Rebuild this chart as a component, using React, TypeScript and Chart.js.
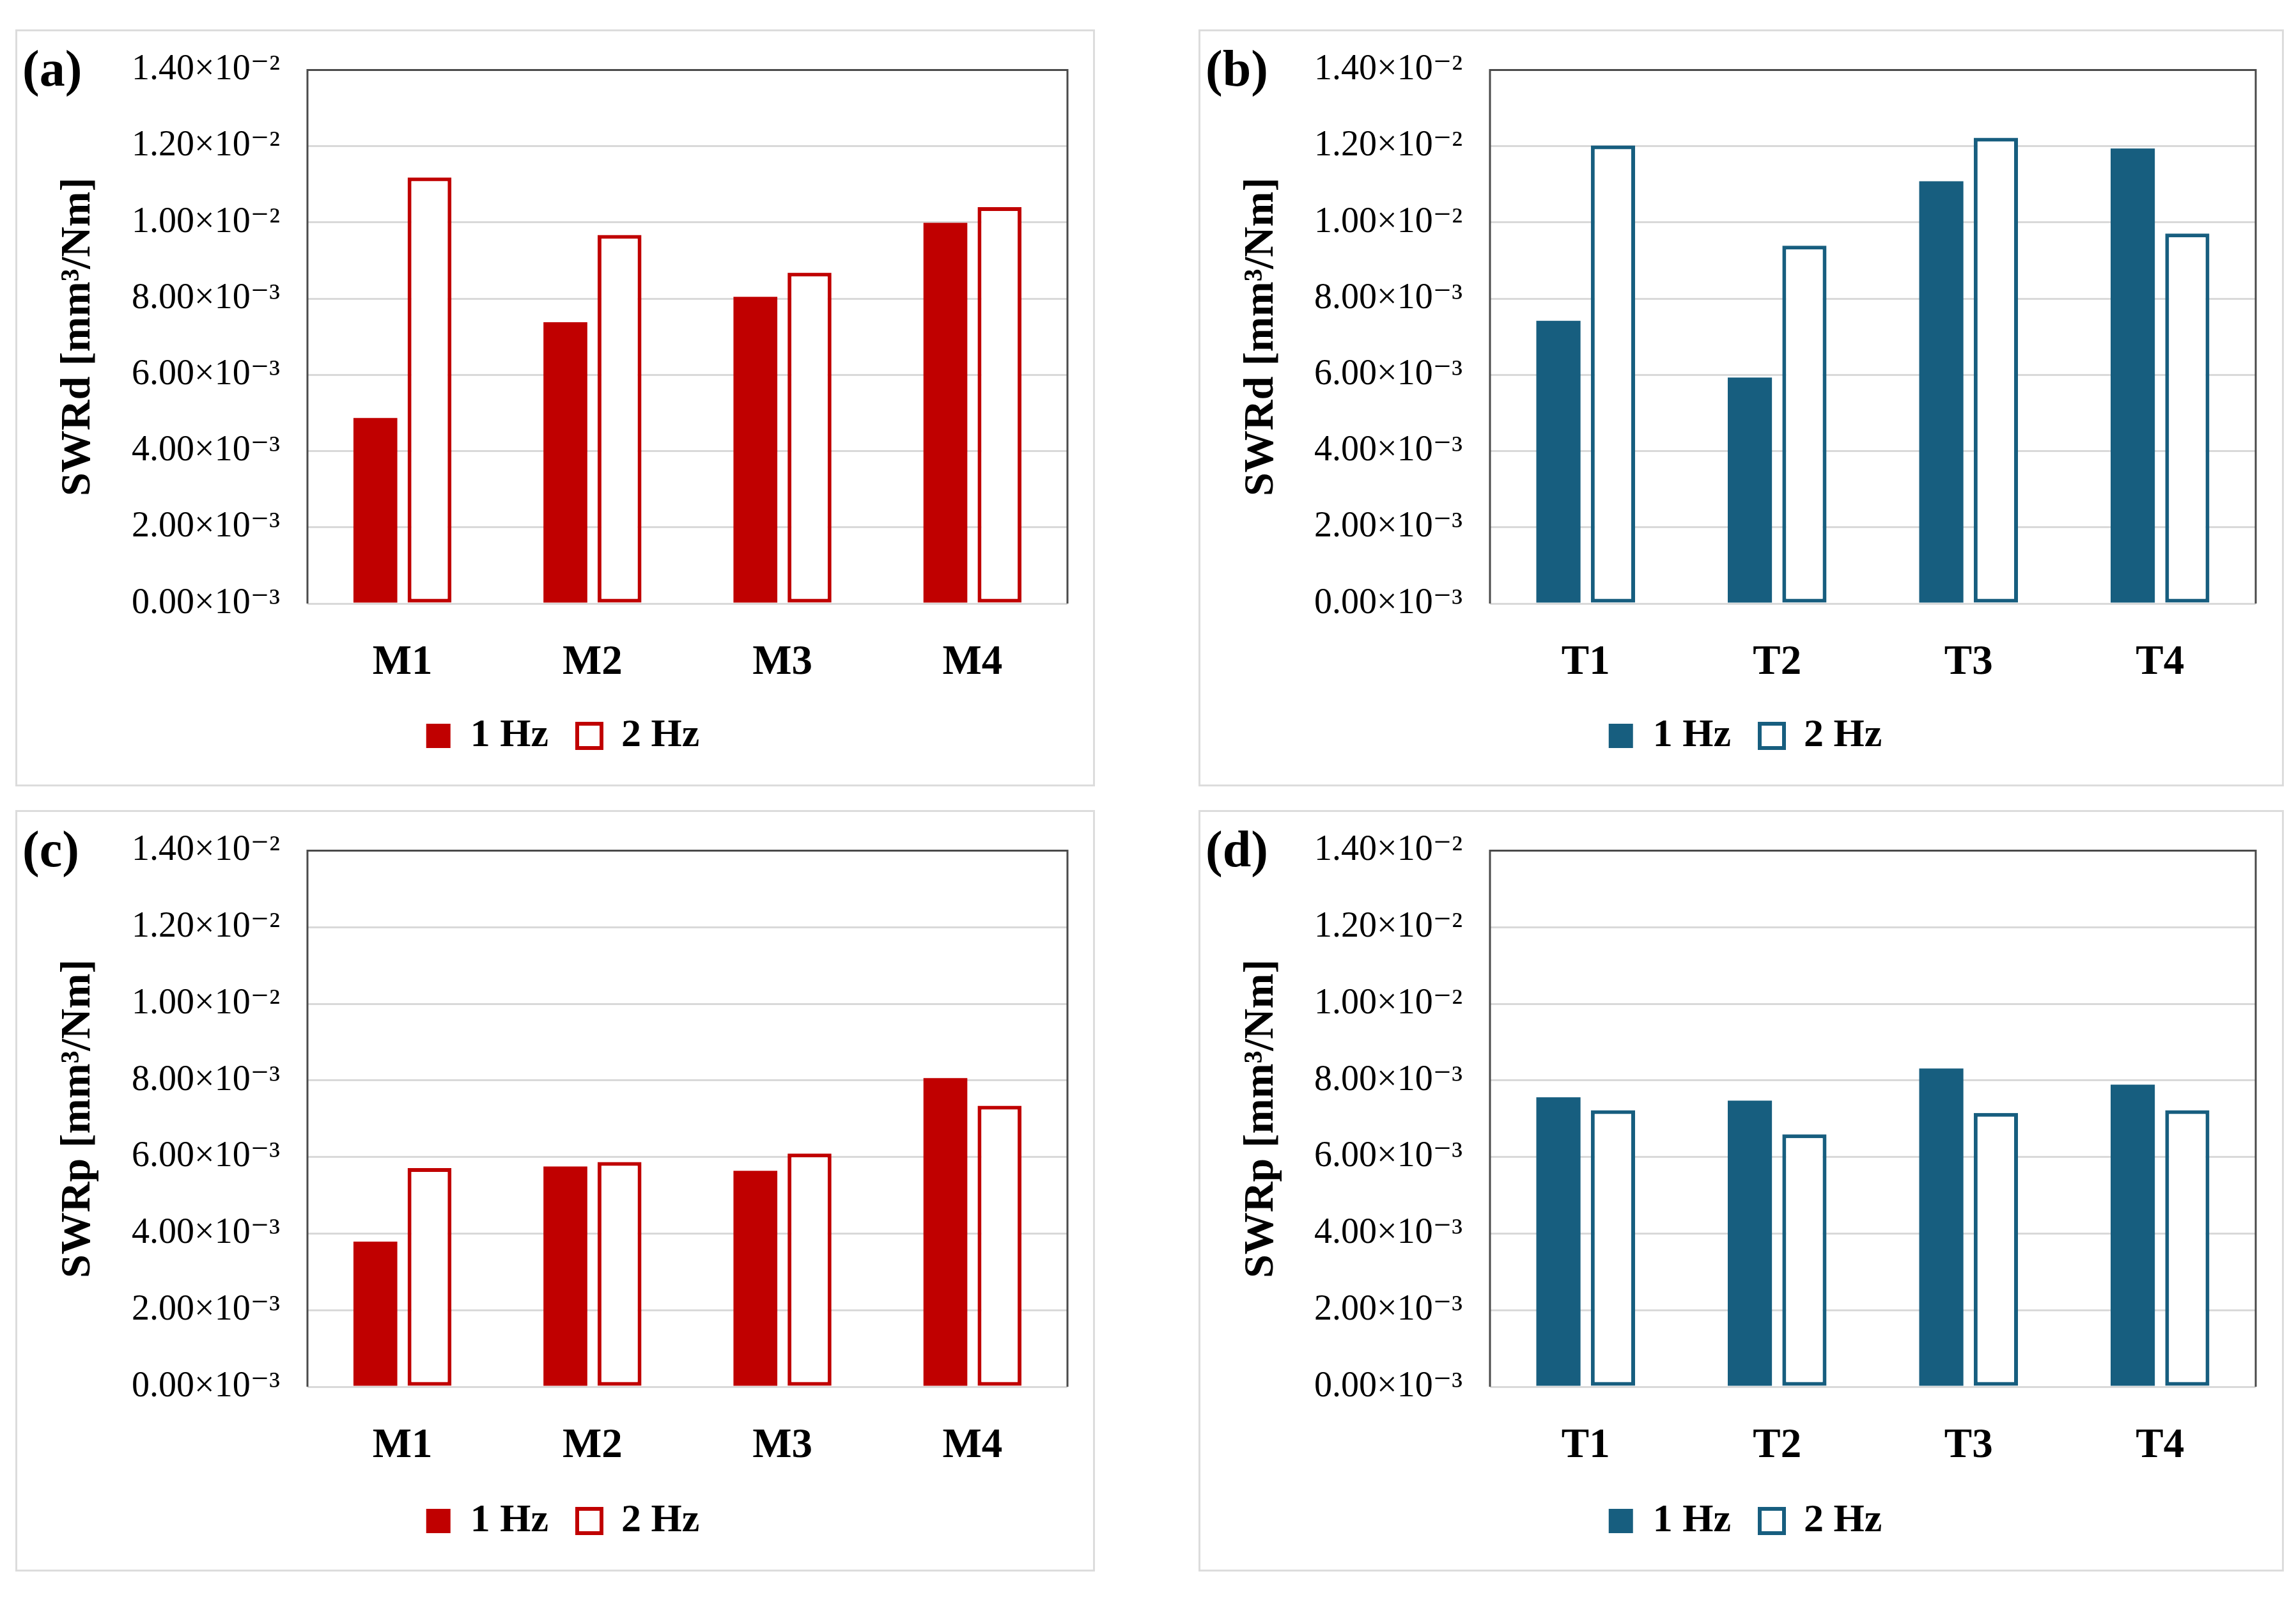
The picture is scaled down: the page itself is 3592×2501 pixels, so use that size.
import React, { useEffect, useRef } from 'react';
import { Chart, registerables } from 'chart.js';

Chart.register(...registerables);

const FONT = "'Liberation Serif', 'DejaVu Serif', serif";

// ---- data ----
const categoriesM = ['M1', 'M2', 'M3', 'M4'];
const categoriesT = ['T1', 'T2', 'T3', 'T4'];
const seriesLabels = ['1 Hz', '2 Hz'];
const panelLabels = ['(a)', '(b)', '(c)', '(d)'];
const yTitles = ['SWRd [mm³/Nm]', 'SWRp [mm³/Nm]'];
const yTickValues = [0, 0.002, 0.004, 0.006, 0.008, 0.01, 0.012, 0.014];

const swrdM1Hz = [0.00487, 0.00738, 0.00805, 0.00999];
const swrdM2Hz = [0.01118, 0.00967, 0.00868, 0.0104];
const swrdT1Hz = [0.00742, 0.00593, 0.01108, 0.01194];
const swrdT2Hz = [0.01202, 0.00939, 0.01222, 0.00971];
const swrpM1Hz = [0.00379, 0.00575, 0.00564, 0.00806];
const swrpM2Hz = [0.00571, 0.00587, 0.00609, 0.00734];
const swrpT1Hz = [0.00756, 0.00747, 0.00831, 0.00789];
const swrpT2Hz = [0.00722, 0.00659, 0.00715, 0.00722];

const RED = '#C00000';
const BLUE = '#175E7F';

function fmtTick(v: number): string {
  if (v >= 0.00999) return (v * 100).toFixed(2) + '×10⁻²';
  return (v * 1000).toFixed(2) + '×10⁻³';
}

type PanelProps = {
  left: number;
  top: number;
  width: number;
  height: number;
  label: string;
  categories: string[];
  d1: number[];
  d2: number[];
  color: string;
  yTitle: string;
  yWidth: number;
  rightPad: number;
  xHeight: number;
  legendShift: number;
};

function Panel(p: PanelProps) {
  const ref = useRef<HTMLCanvasElement | null>(null);
  const cw = p.width - 6;
  const ch = p.height - 6;

  useEffect(() => {
    if (!ref.current) return;
    const framePlugin = {
      id: 'frame',
      afterLayout(chart: any) {
        const lg = chart.legend;
        if (lg) {
          lg.left += p.legendShift;
          lg.right += p.legendShift;
        }
      },
      afterDraw(chart: any) {
        const { ctx, chartArea } = chart;
        ctx.save();
        ctx.strokeStyle = '#4a4a4a';
        ctx.lineWidth = 3;
        ctx.beginPath();
        ctx.moveTo(chartArea.left, chartArea.bottom);
        ctx.lineTo(chartArea.left, chartArea.top);
        ctx.lineTo(chartArea.right, chartArea.top);
        ctx.lineTo(chartArea.right, chartArea.bottom);
        ctx.stroke();
        ctx.fillStyle = '#000';
        ctx.font = `bold 80px ${FONT}`;
        ctx.textAlign = 'left';
        ctx.textBaseline = 'middle';
        ctx.fillText(p.label, 8, 64);
        ctx.restore();
      },
    };
    const chart = new Chart(ref.current, {
      type: 'bar',
      data: {
        labels: p.categories,
        datasets: [
          {
            label: seriesLabels[0],
            data: p.d1,
            backgroundColor: p.color,
            borderColor: p.color,
            borderWidth: 0,
            categoryPercentage: 0.57,
            barPercentage: 0.81,
          },
          {
            label: seriesLabels[1],
            data: p.d2,
            backgroundColor: '#FFFFFF',
            borderColor: p.color,
            borderWidth: 6,
            borderSkipped: false,
            categoryPercentage: 0.57,
            barPercentage: 0.81,
          },
        ],
      },
      options: {
        responsive: false,
        animation: false,
        layout: { padding: { top: 60.5, right: p.rightPad, bottom: 35, left: 0 } },
        plugins: {
          legend: {
            position: 'bottom',
            labels: {
              font: { family: FONT, size: 62, weight: 'bold' },
              color: '#000',
              boxWidth: 38,
              boxHeight: 38,
              padding: 45,
            },
          },
          tooltip: { enabled: false },
        },
        scales: {
          x: {
            grid: { display: false, drawTicks: false },
            border: { display: false },
            ticks: {
              font: { family: FONT, size: 65, weight: 'bold' },
              color: '#000',
              padding: 54,
              maxRotation: 0,
              autoSkip: false,
            },
            afterFit: (s: any) => {
              s.height = p.xHeight;
            },
          },
          y: {
            min: 0,
            max: 0.014,
            afterBuildTicks: (s: any) => {
              s.ticks = yTickValues.map((v) => ({ value: v }));
            },
            grid: { color: '#D9D9D9', lineWidth: 3, drawTicks: false },
            border: { display: false },
            ticks: {
              font: { family: FONT, size: 56 },
              color: '#000',
              padding: 43,
              callback: (v: any) => fmtTick(Number(v)),
            },
            title: {
              display: true,
              text: p.yTitle,
              font: { family: FONT, size: 66, weight: 'bold' },
              color: '#000',
              padding: { top: 56, bottom: 0 },
            },
            afterFit: (s: any) => {
              s.width = p.yWidth;
              s.paddingTop = 0;
              s.paddingBottom = 0;
            },
          },
        },
      } as any,
      plugins: [framePlugin],
    });
    return () => chart.destroy();
  }, []);

  return (
    <div
      style={{
        position: 'absolute',
        left: p.left,
        top: p.top,
        width: p.width,
        height: p.height,
        boxSizing: 'border-box',
        border: '3px solid #DCDCDC',
        background: '#fff',
      }}
    >
      <canvas ref={ref} width={cw} height={ch} style={{ display: 'block', width: cw, height: ch }} />
    </div>
  );
}

export default function App() {
  return (
    <div
      style={{
        position: 'absolute',
        left: 0,
        top: 0,
        width: 3592,
        height: 2501,
        background: '#fff',
        overflow: 'hidden',
      }}
    >
      <Panel left={24} top={46} width={1689} height={1184} label={panelLabels[0]} categories={categoriesM}
        d1={swrdM1Hz} d2={swrdM2Hz} color={RED} yTitle={yTitles[0]} yWidth={454} rightPad={40} xHeight={131} legendShift={32} />
      <Panel left={1875} top={46} width={1698} height={1184} label={panelLabels[1]} categories={categoriesT}
        d1={swrdT1Hz} d2={swrdT2Hz} color={BLUE} yTitle={yTitles[0]} yWidth={453} rightPad={41} xHeight={131} legendShift={27} />
      <Panel left={24} top={1267} width={1689} height={1191} label={panelLabels[2]} categories={categoriesM}
        d1={swrpM1Hz} d2={swrpM2Hz} color={RED} yTitle={yTitles[1]} yWidth={454} rightPad={40} xHeight={134} legendShift={32} />
      <Panel left={1875} top={1267} width={1698} height={1191} label={panelLabels[3]} categories={categoriesT}
        d1={swrpT1Hz} d2={swrpT2Hz} color={BLUE} yTitle={yTitles[1]} yWidth={453} rightPad={41} xHeight={134} legendShift={27} />
    </div>
  );
}
